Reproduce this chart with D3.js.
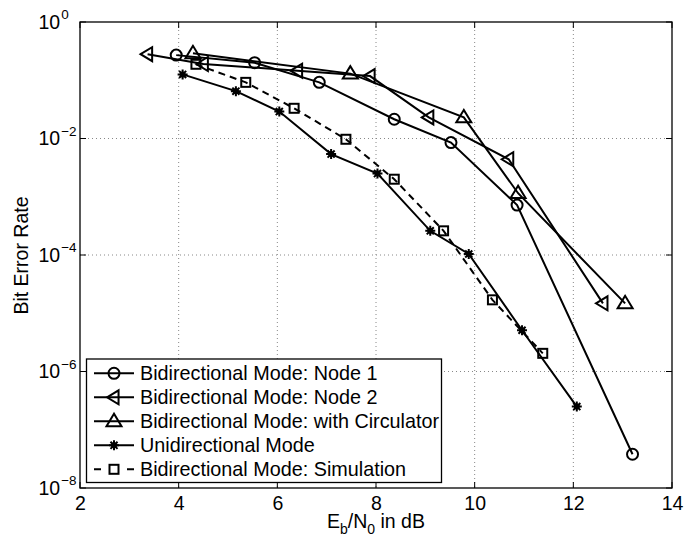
<!DOCTYPE html>
<html>
<head>
<meta charset="utf-8">
<script src="https://cdn.jsdelivr.net/npm/d3@7"></script>
<style>
  html, body { margin: 0; padding: 0; background: #fff; }
  svg { display: block; font-family: "Liberation Sans", Arial, Helvetica, sans-serif; }
</style>
</head>
<body>
<svg id="chart" width="685" height="538"></svg>
<script>
// Eb/N0 (dB) and bit error rate for each measured / simulated curve
const node1X = [3.95, 5.54, 6.85, 8.37, 9.52, 10.86, 13.2];
const node1Y = [0.27, 0.20, 0.092, 0.0214, 0.0085, 7.2e-4, 3.8e-8];

const node2X = [3.37, 4.5, 6.41, 7.88, 9.07, 10.69, 12.6];
const node2Y = [0.28, 0.19, 0.146, 0.118, 0.023, 0.0044, 1.48e-5];

const circX = [4.29, 7.48, 9.78, 10.88, 13.05];
const circY = [0.29, 0.13, 0.023, 1.15e-3, 1.48e-5];

const uniX = [4.08, 5.16, 6.04, 7.09, 8.03, 9.10, 9.88, 10.96, 12.07];
const uniY = [0.126, 0.065, 0.029, 0.0054, 0.0025, 2.6e-4, 1.04e-4, 5.1e-6, 2.5e-7];

const simX = [4.35, 5.36, 6.34, 7.39, 8.37, 9.37, 10.36, 11.38];
const simY = [0.188, 0.092, 0.033, 0.0097, 0.002, 2.6e-4, 1.7e-5, 2.05e-6];

const seriesNames = [
  "Bidirectional Mode: Node 1",
  "Bidirectional Mode: Node 2",
  "Bidirectional Mode: with Circulator",
  "Unidirectional Mode",
  "Bidirectional Mode: Simulation"
];
const markerKinds = ["circle", "leftTri", "upTri", "star", "square"];
const dashed = [false, false, false, false, true];

const xTicks = [2, 4, 6, 8, 10, 12, 14];
const yTickExps = [0, -2, -4, -6, -8];

const series = [
  { x: node1X, y: node1Y },
  { x: node2X, y: node2Y },
  { x: circX, y: circY },
  { x: uniX, y: uniY },
  { x: simX, y: simY }
].map((s, i) => ({
  name: seriesNames[i],
  marker: markerKinds[i],
  dashed: dashed[i],
  pts: s.x.map((v, j) => [v, s.y[j]])
}));

const svg = d3.select("#chart");
const margin = { left: 80, top: 22, right: 13, bottom: 50 };
const W = 685, H = 538;
const x = d3.scaleLinear().domain([2, 14]).range([margin.left, W - margin.right]);
const y = d3.scaleLog().domain([1e-8, 1]).range([H - margin.bottom, margin.top]);

const x0 = x.range()[0], x1 = x.range()[1];
const y0 = y.range()[0], y1 = y.range()[1];
const FS = 19.5;

// dotted grid
const grid = svg.append("g");
xTicks.slice(1, -1).forEach(t => {
  grid.append("line").attr("x1", x(t)).attr("x2", x(t)).attr("y1", y1).attr("y2", y0)
    .attr("stroke", "#888").attr("stroke-width", 1).attr("stroke-dasharray", "1,3");
});
yTickExps.slice(1, -1).forEach(e => {
  grid.append("line").attr("x1", x0).attr("x2", x1).attr("y1", y(Math.pow(10, e))).attr("y2", y(Math.pow(10, e)))
    .attr("stroke", "#888").attr("stroke-width", 1).attr("stroke-dasharray", "1,3");
});

// inward ticks on all four sides
const ticks = svg.append("g").attr("stroke", "#000").attr("stroke-width", 1);
xTicks.forEach(t => {
  ticks.append("line").attr("x1", x(t)).attr("x2", x(t)).attr("y1", y0).attr("y2", y0 - 6);
  ticks.append("line").attr("x1", x(t)).attr("x2", x(t)).attr("y1", y1).attr("y2", y1 + 6);
});
yTickExps.forEach(e => {
  const yy = y(Math.pow(10, e));
  ticks.append("line").attr("x1", x0).attr("x2", x0 + 6).attr("y1", yy).attr("y2", yy);
  ticks.append("line").attr("x1", x1).attr("x2", x1 - 6).attr("y1", yy).attr("y2", yy);
});

// x tick labels
const xAxis = d3.axisBottom(x).tickValues(xTicks).tickSize(0).tickPadding(0).tickFormat(d3.format("d"));
const gx = svg.append("g").attr("transform", `translate(0,${y0})`).call(xAxis);
gx.select(".domain").remove();
gx.selectAll("text").attr("font-size", FS).attr("fill", "#000")
  .attr("y", 22).attr("dy", 0)
  .attr("font-family", "Liberation Sans, Arial, sans-serif");

// y tick labels as powers of ten
const yLab = svg.append("g");
yTickExps.forEach(e => {
  const yy = y(Math.pow(10, e));
  const t = yLab.append("text").attr("x", 38.5).attr("y", yy + 6.5)
    .attr("text-anchor", "start").attr("font-size", FS).attr("fill", "#000");
  t.append("tspan").text("10");
  t.append("tspan").attr("dx", 1).attr("dy", -9.5).attr("font-size", 13.5).text(e === 0 ? "0" : "\u2212" + Math.abs(e));
});

// frame
svg.append("rect").attr("x", x0).attr("y", y1).attr("width", x1 - x0).attr("height", y0 - y1)
  .attr("fill", "none").attr("stroke", "#000").attr("stroke-width", 1.3);

// axis titles
const xt = svg.append("text").attr("x", 376).attr("y", 528).attr("text-anchor", "middle")
  .attr("font-size", FS).attr("fill", "#000");
xt.append("tspan").text("E");
xt.append("tspan").attr("dy", 6).attr("font-size", 14).text("b");
xt.append("tspan").attr("dy", -6).text("/N");
xt.append("tspan").attr("dy", 6).attr("font-size", 14).text("0");
xt.append("tspan").attr("dy", -6).text(" in dB");

svg.append("text").attr("transform", "translate(28,255.5) rotate(-90)")
  .attr("text-anchor", "middle").attr("font-size", FS).attr("fill", "#000").text("Bit Error Rate");

// marker drawing
function drawMarker(g, kind, cx, cy) {
  let el;
  if (kind === "circle") {
    el = g.append("circle").attr("cx", cx).attr("cy", cy).attr("r", 5.5);
  } else if (kind === "leftTri") {
    const r = 7;
    el = g.append("path").attr("d", `M${cx - r},${cy} L${cx + r * 0.65},${cy - r} L${cx + r * 0.65},${cy + r} Z`);
  } else if (kind === "upTri") {
    const r = 7.5;
    el = g.append("path").attr("d", `M${cx},${cy - r} L${cx - r},${cy + r * 0.65} L${cx + r},${cy + r * 0.65} Z`);
  } else if (kind === "square") {
    const s = 4.5;
    el = g.append("rect").attr("x", cx - s).attr("y", cy - s).attr("width", 2 * s).attr("height", 2 * s);
  } else if (kind === "star") {
    const r = 5;
    const p = d3.path();
    for (let k = 0; k < 4; k++) {
      const a = k * Math.PI / 4;
      p.moveTo(cx - r * Math.cos(a), cy - r * Math.sin(a));
      p.lineTo(cx + r * Math.cos(a), cy + r * Math.sin(a));
    }
    el = g.append("path").attr("d", p.toString());
    g.append("circle").attr("cx", cx).attr("cy", cy).attr("r", 3).attr("fill", "#000");
  }
  el.attr("fill", "none").attr("stroke", "#000").attr("stroke-width", 2);
}

const line = d3.line().x(d => x(d[0])).y(d => y(d[1]));
const plot = svg.append("g");
series.forEach(s => {
  plot.append("path").datum(s.pts).attr("d", line)
    .attr("fill", "none").attr("stroke", "#000").attr("stroke-width", 2)
    .attr("stroke-dasharray", s.dashed ? "7,5" : null);
  s.pts.forEach(p => drawMarker(plot, s.marker, x(p[0]), y(p[1])));
});

// legend
const lg = svg.append("g");
lg.append("rect").attr("x", 86.5).attr("y", 359).attr("width", 355).attr("height", 123.5)
  .attr("fill", "#fff").attr("stroke", "#000").attr("stroke-width", 1.3);
series.forEach((s, i) => {
  const yy = 373.3 + i * 24;
  lg.append("line").attr("x1", 94).attr("x2", 134).attr("y1", yy).attr("y2", yy)
    .attr("stroke", "#000").attr("stroke-width", 2)
    .attr("stroke-dasharray", s.dashed ? "7,26,7" : null);
  drawMarker(lg, s.marker, 114, yy);
  lg.append("text").attr("x", 140).attr("y", yy + 7).attr("font-size", 19.8).attr("fill", "#000").text(s.name);
});
</script>
</body>
</html>
